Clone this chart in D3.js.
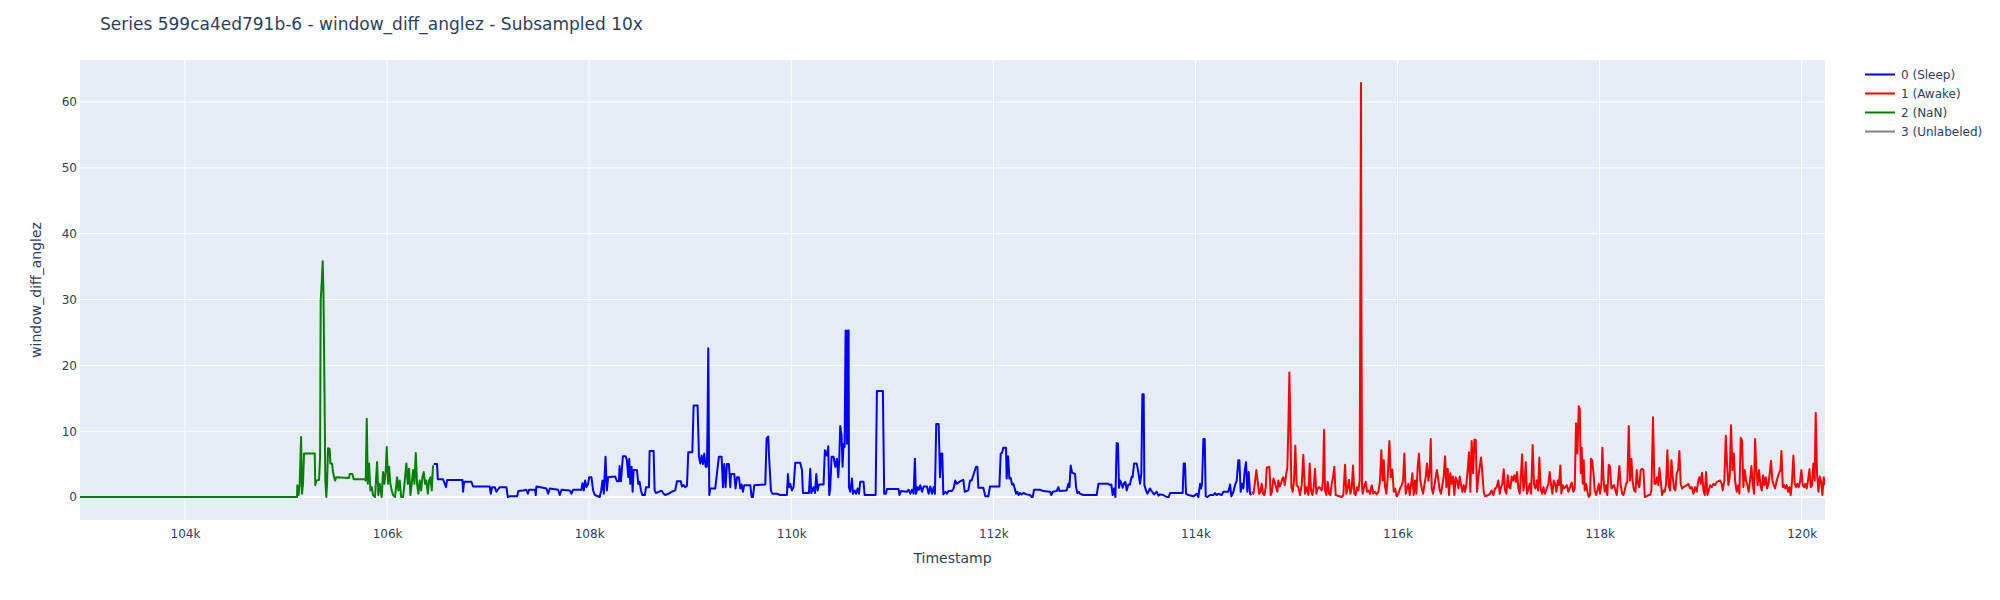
<!DOCTYPE html>
<html><head><meta charset="utf-8">
<script src="https://cdn.jsdelivr.net/npm/d3@7/dist/d3.min.js"></script>
<style>
html,body{margin:0;padding:0;background:#fff;}
svg text{font-family:"DejaVu Sans",verdana,arial,sans-serif;}
</style></head><body>
<svg id="chart" width="2000" height="600"></svg>
<script>
const titleText = "Series 599ca4ed791b-6 - window_diff_anglez - Subsampled 10x";
const xLabel = "Timestamp";
const yLabel = "window_diff_anglez";
const seriesNames = ["0 (Sleep)", "1 (Awake)", "2 (NaN)", "3 (Unlabeled)"];
const seriesColors = ["blue", "red", "green", "gray"];
const xTicks = [104000,106000,108000,110000,112000,114000,116000,118000,120000];
const yTicks = [0,10,20,30,40,50,60];

// [timestamp, value]
const nanData = [[102961,0],[105109,0],[105112,1.8],[105125,0.3],[105135,1.8],[105149,9.1],[105158,0.5],[105168,2.0],[105178,6.6],[105284,6.6],[105290,1.8],[105300,2.5],[105327,2.6],[105337,6.1],[105343,29.9],[105353,32.5],[105363,35.8],[105370,31.5],[105380,17.2],[105389,2.5],[105399,0],[105406,2.0],[105416,7.4],[105432,7.3],[105439,5.1],[105455,5.1],[105465,3.8],[105485,2.5],[105498,3.0],[105624,2.9],[105630,3.5],[105657,3.5],[105670,2.7],[105779,2.7],[105789,2.5],[105799,11.9],[105809,2.0],[105822,5.1],[105835,1.0],[105848,1.5],[105861,0.3],[105881,0],[105901,5.3],[105914,0.3],[105927,2.0],[105947,0],[105960,3.8],[105974,2.0],[105987,4.1],[105997,7.6],[106010,2.0],[106020,4.6],[106033,2.0],[106046,1.0],[106059,0.3],[106079,0],[106099,3.0],[106112,1.0],[106125,2.5],[106139,0],[106158,0],[106172,2.0],[106191,5.1],[106205,2.0],[106218,4.3],[106231,0.3],[106244,2.0],[106257,4.1],[106271,2.0],[106284,6.7],[106297,2.0],[106310,0.5],[106323,2.5],[106337,1.0],[106350,3.0],[106363,3.8],[106376,2.0],[106389,2.5],[106403,0.5],[106416,2.5],[106429,3.0],[106442,1.0],[106455,4.8]];

const sleepData = [[106462,5.0],[106495,5.0],[106502,2.7],[106554,2.7],[106571,2.0],[106584,1.5],[106594,2.6],[106746,2.6],[106752,0.8],[106762,2.3],[106835,2.3],[106851,1.6],[107016,1.6],[107026,0.5],[107040,1.5],[107066,1.5],[107082,0.8],[107115,1.5],[107181,1.5],[107195,0],[107214,0.1],[107287,0.1],[107300,0.9],[107346,1.0],[107379,1.1],[107393,0.5],[107406,1.1],[107465,1.1],[107472,0.3],[107478,1.6],[107544,1.4],[107577,1.3],[107594,0.5],[107610,1.3],[107693,1.1],[107709,0.3],[107726,1.1],[107808,1.0],[107825,0.5],[107841,1.1],[107924,1.1],[107934,2.1],[107947,1.0],[107960,2.5],[107973,1.5],[107990,2.0],[108000,3.0],[108023,3.0],[108039,1.0],[108056,0.3],[108105,0],[108119,1.0],[108132,2.5],[108145,0.5],[108162,6.1],[108175,1.0],[108188,3.0],[108258,3.1],[108275,2.4],[108295,2.4],[108301,4.7],[108315,2.4],[108334,6.2],[108361,6.2],[108374,5.6],[108387,3.0],[108397,5.8],[108407,2.0],[108420,4.6],[108430,0.8],[108440,4.1],[108473,4.1],[108486,2.0],[108499,2.3],[108513,1.0],[108526,0.3],[108552,0.3],[108562,1.5],[108592,1.5],[108598,7.0],[108638,7.0],[108648,1.0],[108661,0.6],[108704,0.9],[108720,0.9],[108737,0.5],[108753,0.3],[108786,0.5],[108819,0.8],[108852,1.0],[108869,2.4],[108908,2.4],[108918,1.6],[108935,1.8],[108951,1.5],[108968,1.7],[108981,6.8],[109021,6.8],[109034,13.9],[109073,13.9],[109087,6.1],[109100,5.1],[109113,6.3],[109126,5.0],[109139,6.6],[109153,4.6],[109166,4.6],[109172,11.7],[109179,22.6],[109189,0.3],[109199,1.3],[109248,1.3],[109265,3.6],[109284,6.1],[109311,6.1],[109324,1.5],[109337,5.0],[109350,1.5],[109364,5.0],[109383,5.0],[109397,1.5],[109403,3.5],[109436,3.5],[109449,1.3],[109463,3.0],[109482,3.0],[109496,1.3],[109509,1.9],[109522,0.8],[109535,1.8],[109595,1.8],[109608,0],[109621,0],[109634,1.8],[109743,1.9],[109756,8.9],[109773,9.2],[109779,6.6],[109786,4.6],[109799,1.0],[109812,0.5],[109859,0.5],[109891,0.3],[109957,0.3],[109967,3.5],[109977,1.5],[109990,2.0],[110007,1.0],[110023,1.5],[110040,5.2],[110089,5.2],[110106,4.1],[110116,0.6],[110175,0.6],[110188,4.3],[110198,0.6],[110221,1.5],[110235,0.6],[110248,3.5],[110261,1.0],[110274,1.9],[110320,1.9],[110333,7.1],[110353,6.3],[110366,7.7],[110376,0.3],[110386,1.3],[110399,6.1],[110419,6.1],[110436,4.6],[110452,5.8],[110465,3.0],[110475,5.6],[110485,10.8],[110498,9.4],[110508,4.6],[110518,8.1],[110528,7.6],[110538,25.3],[110551,8.1],[110558,25.3],[110568,25.3],[110571,1.5],[110584,0.8],[110601,2.8],[110611,0.5],[110627,1.0],[110643,0.5],[110657,1.3],[110670,0.5],[110683,2.3],[110716,2.3],[110726,0.3],[110835,0.3],[110848,16.1],[110907,16.1],[110920,0.5],[110937,0.5],[110947,1.2],[111062,1.2],[111072,0.3],[111086,0.9],[111145,0.8],[111162,1.1],[111178,0.5],[111195,1.1],[111211,0.5],[111224,5.8],[111234,0.5],[111251,1.5],[111264,1.1],[111277,1.8],[111294,0.8],[111310,1.6],[111343,1.6],[111360,0.5],[111376,1.6],[111393,0.5],[111409,1.5],[111422,0.5],[111435,11.1],[111459,11.1],[111472,3.0],[111485,6.6],[111495,6.6],[111505,0.4],[111525,0.8],[111541,0.5],[111557,0.9],[111590,0.9],[111607,1.3],[111623,2.5],[111640,2.0],[111673,2.4],[111703,2.6],[111717,0.8],[111753,1.0],[111769,2.5],[111786,2.5],[111802,3.3],[111829,4.6],[111842,4.6],[111852,1.4],[111901,1.4],[111921,0.1],[111951,0.1],[111967,1.6],[112060,1.6],[112073,6.6],[112086,6.7],[112099,7.5],[112126,7.5],[112132,2.8],[112146,6.2],[112159,2.8],[112172,2.9],[112185,1.9],[112198,2.0],[112212,1.3],[112225,0.5],[112238,0.8],[112251,0.3],[112264,0.6],[112278,0.4],[112297,0.6],[112330,0.4],[112363,0.3],[112380,0],[112390,0],[112403,1.1],[112462,1.1],[112495,0.9],[112561,0.8],[112574,0.3],[112588,0.8],[112627,0.9],[112644,1.5],[112654,0.9],[112726,1.0],[112743,2.0],[112753,1.5],[112766,4.8],[112779,3.7],[112809,3.5],[112819,1.5],[112832,0.6],[112845,0.8],[112858,0.5],[112891,0.3],[113023,0.3],[113040,2.0],[113139,2.0],[113155,1.8],[113168,1.9],[113181,0.3],[113195,1.3],[113208,0],[113214,3.6],[113221,8.2],[113234,8.1],[113244,1.4],[113254,2.5],[113267,2.1],[113280,1.4],[113294,2.1],[113307,2.3],[113320,1.0],[113336,1.9],[113353,1.9],[113369,3.1],[113379,3.0],[113393,5.1],[113419,5.1],[113435,3.8],[113452,2.0],[113465,3.6],[113475,15.6],[113488,15.6],[113495,1.8],[113511,1.0],[113525,0.5],[113551,1.3],[113571,0.8],[113591,0.4],[113617,0.8],[113634,0.2],[113650,0.4],[113683,0.3],[113716,0],[113736,0],[113749,0.6],[113874,0.6],[113884,5.1],[113897,5.1],[113907,0.5],[113930,0.3],[113980,0.1],[114013,0.5],[114029,0],[114046,2.0],[114056,1.3],[114066,2.0],[114079,8.8],[114092,8.8],[114102,0.1],[114118,0],[114145,0.3],[114178,0.3],[114194,0.6],[114211,0.3],[114227,0.5],[114260,0.3],[114277,0.8],[114326,0.8],[114343,1.9],[114356,0.1],[114376,0.8],[114392,1.8],[114409,2.5],[114425,5.6],[114435,5.6],[114448,0.8],[114461,2.0],[114475,1.3],[114488,4.1],[114501,5.3],[114514,0.8],[114527,3.8],[114541,0.5],[114554,0.3]];

const awakeData = [[114560,0.8],[114574,0.5],[114590,2.3],[114603,4.1],[114617,2.3],[114630,0.5],[114643,0.8],[114656,2.0],[114669,0.5],[114682,0.3],[114696,1.5],[114706,4.5],[114719,4.5],[114732,4.6],[114745,0.3],[114758,0.8],[114772,2.8],[114785,2.3],[114798,1.5],[114811,0.8],[114821,2.5],[114834,1.6],[114847,2.0],[114860,2.8],[114871,3.0],[114884,1.8],[114897,3.3],[114910,4.5],[114920,10.7],[114930,18.9],[114940,10.7],[114950,1.5],[114963,0.8],[114976,2.5],[114989,7.8],[115002,1.8],[115019,1.5],[115035,0.3],[115052,1.8],[115068,6.4],[115085,0.5],[115101,1.5],[115118,0.3],[115131,5.1],[115144,1.0],[115158,0.3],[115171,1.5],[115184,4.3],[115197,0.5],[115210,1.3],[115224,1.5],[115237,1.3],[115250,1.0],[115263,2.5],[115273,10.2],[115283,1.0],[115296,0.3],[115309,2.3],[115322,0.5],[115336,0.3],[115349,2.0],[115362,3.0],[115375,4.6],[115388,0.3],[115448,0],[115464,0.3],[115481,4.9],[115494,0.5],[115507,1.3],[115520,2.6],[115534,0.5],[115547,1.3],[115560,4.8],[115573,0.5],[115586,0.3],[115600,1.5],[115613,1.0],[115626,2.5],[115634,40.0],[115639,62.9],[115643,30.0],[115649,1.5],[115656,0.5],[115669,1.5],[115685,2.3],[115699,0.8],[115712,1.0],[115728,0.5],[115745,1.8],[115761,0.5],[115778,0.8],[115794,0.4],[115811,0.8],[115827,2.5],[115840,7.1],[115854,2.5],[115864,5.6],[115877,1.5],[115890,0.5],[115903,3.0],[115920,8.5],[115933,3.0],[115949,4.2],[115963,0.8],[115976,1.3],[115992,0.1],[116009,0.5],[116025,1.3],[116042,1.8],[116055,2.5],[116068,6.6],[116081,0.5],[116094,1.3],[116108,2.0],[116121,0.3],[116134,1.8],[116147,3.6],[116160,0.3],[116174,2.5],[116187,0.5],[116200,4.6],[116213,6.6],[116226,2.5],[116240,1.3],[116253,0.5],[116266,1.8],[116279,3.0],[116292,5.1],[116306,2.5],[116319,4.1],[116329,8.8],[116339,1.3],[116352,0.5],[116365,1.8],[116378,3.0],[116391,4.1],[116405,2.5],[116418,1.0],[116431,0.5],[116444,1.8],[116457,3.0],[116471,6.2],[116484,1.5],[116497,4.3],[116510,0.3],[116523,3.6],[116537,2.0],[116550,3.1],[116563,0.3],[116576,3.0],[116589,2.5],[116603,1.3],[116616,3.1],[116629,1.8],[116642,0.8],[116655,1.8],[116668,0.8],[116682,2.0],[116695,4.1],[116708,6.8],[116721,0.8],[116734,8.5],[116748,3.6],[116761,8.7],[116774,8.7],[116787,0.8],[116800,3.0],[116814,4.6],[116827,6.0],[116840,3.6],[116853,0.8],[116866,0.1],[116899,0.3],[116916,0.5],[116932,1.0],[116949,0.3],[116965,1.3],[116982,1.5],[116998,2.5],[117012,0.5],[117025,1.5],[117038,2.0],[117051,4.2],[117064,1.0],[117078,0.5],[117091,3.3],[117104,1.5],[117117,1.3],[117130,3.1],[117144,2.5],[117157,3.3],[117170,2.3],[117183,3.8],[117196,1.3],[117210,0.5],[117223,3.6],[117233,6.5],[117246,1.0],[117259,2.3],[117269,5.3],[117282,0.5],[117295,1.3],[117308,2.0],[117322,0.5],[117338,7.9],[117351,2.0],[117365,1.3],[117378,2.5],[117391,1.0],[117404,6.0],[117417,1.3],[117431,0.5],[117444,1.5],[117460,0.5],[117477,1.3],[117493,2.0],[117506,3.8],[117520,1.8],[117533,0.5],[117546,2.5],[117559,2.0],[117572,0.8],[117586,2.5],[117599,1.8],[117612,4.8],[117622,0.5],[117635,1.8],[117649,1.3],[117662,1.5],[117675,1.8],[117691,0.8],[117708,1.5],[117724,2.2],[117741,0.8],[117754,1.3],[117767,11.2],[117781,6.6],[117794,13.8],[117804,13.4],[117814,3.6],[117823,7.5],[117833,2.0],[117843,5.6],[117853,1.0],[117866,2.0],[117880,0.8],[117893,0],[117906,0.3],[117916,5.8],[117926,5.6],[117939,3.8],[117952,1.0],[117965,0.3],[117978,1.0],[117992,2.0],[118005,0.5],[118018,2.0],[118028,7.5],[118038,3.0],[118051,0.8],[118064,1.8],[118077,0.3],[118091,4.9],[118104,4.6],[118117,1.3],[118130,1.5],[118143,1.8],[118157,1.0],[118170,0.3],[118183,2.5],[118196,4.7],[118209,1.8],[118223,0.5],[118236,0.3],[118249,1.0],[118262,2.0],[118275,2.3],[118289,10.8],[118302,2.5],[118315,5.8],[118328,2.3],[118341,1.0],[118355,0.8],[118368,4.1],[118381,2.0],[118394,1.5],[118407,4.1],[118421,4.3],[118434,4.1],[118447,0],[118487,0.3],[118500,0.3],[118513,1.0],[118529,12.1],[118543,2.0],[118556,2.0],[118569,3.0],[118582,1.8],[118592,4.4],[118605,2.5],[118618,0.3],[118632,1.0],[118645,0.8],[118658,2.0],[118671,7.1],[118684,1.8],[118698,1.0],[118711,5.6],[118724,3.0],[118737,1.3],[118750,1.0],[118764,3.6],[118777,4.1],[118790,7.0],[118803,2.0],[118816,1.3],[118830,1.5],[118863,1.8],[118879,2.0],[118896,1.3],[118912,1.5],[118929,0.5],[118945,1.5],[118962,0.8],[118975,2.3],[118988,3.0],[119001,2.0],[119014,3.7],[119028,1.0],[119041,0.3],[119054,3.8],[119067,0.3],[119080,1.0],[119094,1.8],[119110,1.5],[119127,2.0],[119143,1.8],[119160,2.3],[119193,2.5],[119209,2.0],[119219,1.0],[119235,2.5],[119249,9.3],[119262,4.8],[119275,1.8],[119288,3.0],[119301,10.9],[119315,4.1],[119328,6.6],[119341,2.5],[119357,0.8],[119371,1.8],[119384,0.5],[119397,9.0],[119410,8.6],[119423,1.5],[119437,4.1],[119450,2.5],[119463,1.8],[119476,0.8],[119489,2.5],[119503,4.7],[119516,2.0],[119529,0.5],[119539,8.8],[119552,4.1],[119565,1.8],[119578,4.1],[119592,1.8],[119605,1.0],[119618,3.3],[119631,1.8],[119645,3.0],[119658,1.3],[119671,2.0],[119684,3.6],[119697,5.5],[119710,2.5],[119724,1.8],[119737,1.3],[119750,2.3],[119763,3.0],[119776,3.6],[119790,4.1],[119800,7.0],[119813,1.5],[119826,1.8],[119839,1.3],[119852,1.8],[119866,0.8],[119879,1.5],[119892,0.3],[119905,2.5],[119918,6.3],[119931,2.0],[119945,1.5],[119958,2.0],[119971,1.5],[119984,2.3],[119997,4.1],[120011,1.8],[120024,1.5],[120037,2.0],[120050,1.3],[120063,2.5],[120077,4.2],[120090,1.5],[120103,1.8],[120116,5.1],[120129,2.5],[120139,12.8],[120152,3.6],[120166,0.8],[120179,3.1],[120192,2.3],[120205,0.3],[120218,3.0],[120231,1.8]];

const unlabeledData = [];

const seriesData = [sleepData, awakeData, nanData, unlabeledData];

// ---- layout ----
const W = 2000, H = 600;
const margin = {left: 80, right: 175, top: 60, bottom: 80};
const pw = W - margin.left - margin.right, ph = H - margin.top - margin.bottom;
const textColor = "#2a3f5f";

const svg = d3.select("#chart");
const allPts = seriesData.flat();
const xExt = d3.extent(allPts, d => d[0]);
const yMax = d3.max(allPts, d => d[1]), yMin = d3.min(allPts, d => d[1]);
const pad = (yMax - yMin) * 0.05 / 0.9;
const x = d3.scaleLinear().domain(xExt).range([margin.left, margin.left + pw]);
const y = d3.scaleLinear().domain([yMin - pad, yMax + pad]).range([margin.top + ph, margin.top]);

svg.append("rect").attr("x", margin.left).attr("y", margin.top).attr("width", pw).attr("height", ph).attr("fill", "#E5ECF6");

svg.append("defs").append("clipPath").attr("id", "clip").append("rect")
  .attr("x", margin.left).attr("y", margin.top).attr("width", pw).attr("height", ph);

// grid
const grid = svg.append("g");
grid.selectAll(".gx").data(xTicks).join("line")
  .attr("x1", d => x(d)).attr("x2", d => x(d)).attr("y1", margin.top).attr("y2", margin.top + ph)
  .attr("stroke", "#fff").attr("stroke-width", 1);
grid.selectAll(".gy").data(yTicks).join("line")
  .attr("x1", margin.left).attr("x2", margin.left + pw).attr("y1", d => y(d)).attr("y2", d => y(d))
  .attr("stroke", "#fff").attr("stroke-width", d => d === 0 ? 2 : 1);

// axes (labels only, like plotly)
const xAxis = d3.axisBottom(x).tickValues(xTicks).tickSize(0).tickPadding(9).tickFormat(d => d3.format("d")(d / 1000) + "k");
const gx = svg.append("g").attr("transform", `translate(0,${margin.top + ph})`).call(xAxis);
gx.select(".domain").remove();
gx.selectAll("text").attr("fill", textColor).style("font-size", "12px");

const yAxis = d3.axisLeft(y).tickValues(yTicks).tickSize(0).tickPadding(3);
const gy = svg.append("g").attr("transform", `translate(${margin.left},0)`).call(yAxis);
gy.select(".domain").remove();
gy.selectAll("text").attr("fill", textColor).style("font-size", "12px");

// lines
const line = d3.line().x(d => x(d[0])).y(d => y(d[1]));
const linesG = svg.append("g").attr("clip-path", "url(#clip)");
seriesData.forEach((data, i) => {
  if (!data.length) return;
  linesG.append("path").datum(data).attr("d", line)
    .attr("fill", "none").attr("stroke", seriesColors[i]).attr("stroke-width", 2)
    .attr("stroke-linejoin", "round");
});

// title
svg.append("text").attr("x", 100).attr("y", 30).attr("fill", textColor)
  .style("font-size", "17px").text(titleText);

// axis titles
svg.append("text").attr("x", margin.left + pw / 2).attr("y", 563).attr("text-anchor", "middle")
  .attr("fill", textColor).style("font-size", "14px").text(xLabel);
svg.append("text").attr("transform", `translate(41,${margin.top + ph / 2}) rotate(-90)`).attr("text-anchor", "middle")
  .attr("fill", textColor).style("font-size", "14px").text(yLabel);

// legend
const leg = svg.append("g");
seriesNames.forEach((name, i) => {
  const cy = 74.5 + i * 19;
  leg.append("line").attr("x1", 1865).attr("x2", 1895).attr("y1", cy).attr("y2", cy)
    .attr("stroke", seriesColors[i]).attr("stroke-width", 2);
  leg.append("text").attr("x", 1901).attr("y", cy).attr("dy", "0.35em").attr("fill", textColor)
    .style("font-size", "12px").text(name);
});
</script>
</body></html>
